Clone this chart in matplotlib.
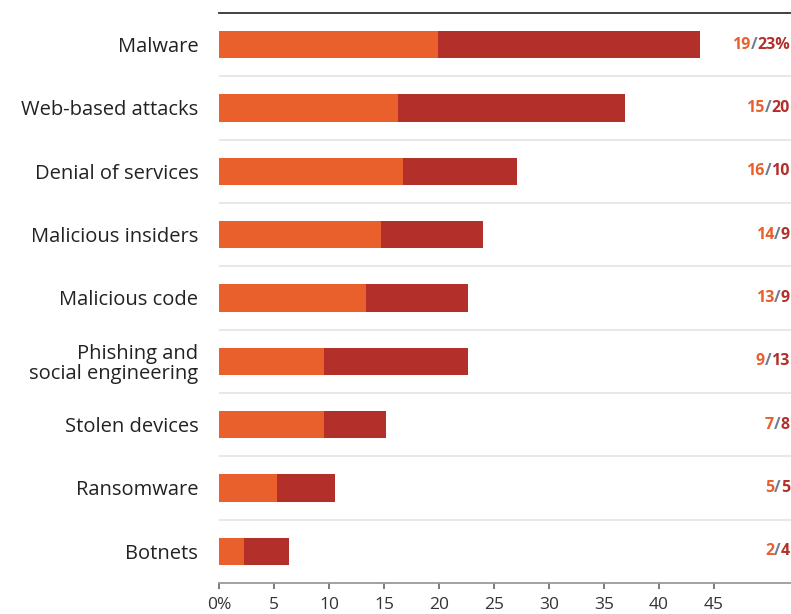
import numpy as np
import matplotlib
matplotlib.use("Agg")
import matplotlib.pyplot as plt

plt.rcParams['font.family'] = ['Open Sans', 'DejaVu Sans']

categories = ["Malware", "Web-based attacks", "Denial of services", "Malicious insiders",
              "Malicious code", "Phishing and\nsocial engineering", "Stolen devices",
              "Ransomware", "Botnets"]
# bar lengths as drawn in the picture
first_part = [19.9, 16.3, 16.7, 14.7, 13.4, 9.5, 9.5, 5.3, 2.3]
second_part = [23.8, 20.6, 10.4, 9.3, 9.2, 13.1, 5.7, 5.2, 4.1]
# printed labels on the right
label_first = ["19", "15", "16", "14", "13", "9", "7", "5", "2"]
label_second = ["23%", "20", "10", "9", "9", "13", "8", "5", "4"]
xticks = [0, 5, 10, 15, 20, 25, 30, 35, 40, 45]
xticklabels = ["0%", "5", "10", "15", "20", "25", "30", "35", "40", "45"]

orange = "#E9602D"
dark = "#B3302A"
slash = "#6E7E8E"

fig = plt.figure(figsize=(7.91, 6.14), dpi=100)
ax = fig.add_axes([0.277, 0.0505, 0.723, 0.9285])

y = np.arange(len(categories))
ax.barh(y, first_part, height=0.43, color=orange)
ax.barh(y, second_part, left=first_part, height=0.43, color=dark)

ax.set_xlim(0, 52)
ax.set_ylim(len(categories) - 0.5, -0.5)

for i in range(len(categories) - 1):
    ax.axhline(i + 0.5, color="#E4E4E4", lw=1.2)

for s in ["left", "right"]:
    ax.spines[s].set_visible(False)
ax.spines["top"].set_color("#333333")
ax.spines["top"].set_linewidth(1.3)
ax.spines["bottom"].set_color("#9A9A9A")
ax.spines["bottom"].set_linewidth(1.3)

ax.set_yticks(y)
ax.set_yticklabels(categories, fontsize=14.5, color="#222222", linespacing=1.0)
ax.tick_params(axis="y", length=0, pad=15)
ax.set_xticks(xticks)
ax.set_xticklabels(xticklabels, fontsize=12.5, color="#333333")
ax.tick_params(axis="x", length=4, width=1.2, color="#666666", pad=6)

for i in range(len(categories)):
    t2 = ax.text(0.998, i, label_second[i], transform=ax.get_yaxis_transform(),
                 ha="right", va="center", fontsize=11.5, fontweight="bold", color=dark)
    t1 = ax.annotate("/", xy=(0, 0.5), xycoords=t2, ha="right", va="center",
                     fontsize=11.5, fontweight="bold", color=slash)
    ax.annotate(label_first[i], xy=(0, 0.5), xycoords=t1, ha="right", va="center",
                fontsize=11.5, fontweight="bold", color=orange)

fig.savefig("out.png", dpi=100)
